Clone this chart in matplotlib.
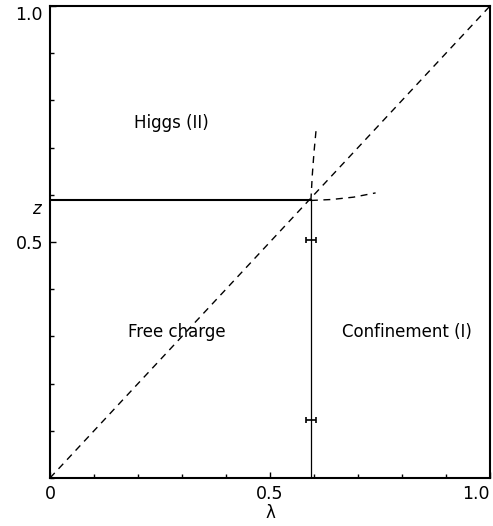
import numpy as np
import matplotlib.pyplot as plt
from matplotlib.ticker import MultipleLocator

# phase boundaries
lam_c = 0.593
z_c = 0.588

# upper dashed branch
up_lam = [0.593, 0.596, 0.600, 0.605]
up_z = [0.588, 0.640, 0.690, 0.740]

# right dashed branch
rt_lam = [0.593, 0.640, 0.690, 0.740]
rt_z = [0.588, 0.590, 0.595, 0.604]

# error bar points on the vertical boundary
err_lam = [0.593, 0.593]
err_z = [0.504, 0.123]
err_x = [0.012, 0.012]

fig = plt.figure(figsize=(4.93, 5.26), dpi=100)
ax = fig.add_axes([0.1014, 0.0913, 0.8925, 0.8973])

dash = (0, (5, 4))
ax.plot([0, 1], [0, 1], color='black', lw=1.0, linestyle=dash)
ax.plot([0, lam_c], [z_c, z_c], color='black', lw=1.5)
ax.plot([lam_c, lam_c], [0, z_c], color='black', lw=0.9)
ax.plot(up_lam, up_z, color='black', lw=1.0, linestyle=dash)
ax.plot(rt_lam, rt_z, color='black', lw=1.0, linestyle=dash)
ax.errorbar(err_lam, err_z, xerr=err_x, fmt='none', ecolor='black',
            elinewidth=1.2, capsize=2.5, capthick=1.2)

ax.text(0.275, 0.752, 'Higgs (II)', ha='center', va='center', fontsize=12)
ax.text(0.288, 0.31, 'Free charge', ha='center', va='center', fontsize=12)
ax.text(0.811, 0.31, 'Confinement (I)', ha='center', va='center', fontsize=12)

ax.set_xlim(0, 1)
ax.set_ylim(0, 1)
ax.set_xticks([0, 0.5, 1.0])
ax.set_xticklabels(['0', '0.5', '1.0'])
ax.set_yticks([0.5, 1.0])
ax.set_yticklabels(['0.5', '1.0'])
ax.xaxis.set_minor_locator(MultipleLocator(0.1))
ax.yaxis.set_minor_locator(MultipleLocator(0.1))
ax.tick_params(which='both', direction='in', top=False, right=False,
               labelsize=12.5, width=1)
ax.tick_params(which='major', length=4)
ax.tick_params(which='minor', length=3)
ax.tick_params(axis='x', pad=5)
ax.tick_params(axis='y', pad=5)
ax.get_xticklabels()[-1].set_horizontalalignment('right')
ax.get_yticklabels()[-1].set_verticalalignment('top')
ax.set_xlabel('λ', fontsize=12)
ax.xaxis.set_label_coords(0.5, -0.056)
ax.set_ylabel('z', fontsize=12, style='italic', rotation=0)
ax.yaxis.set_label_coords(-0.03, 0.55)

for s in ax.spines.values():
    s.set_linewidth(1.5)

fig.savefig('out.png', dpi=100)
